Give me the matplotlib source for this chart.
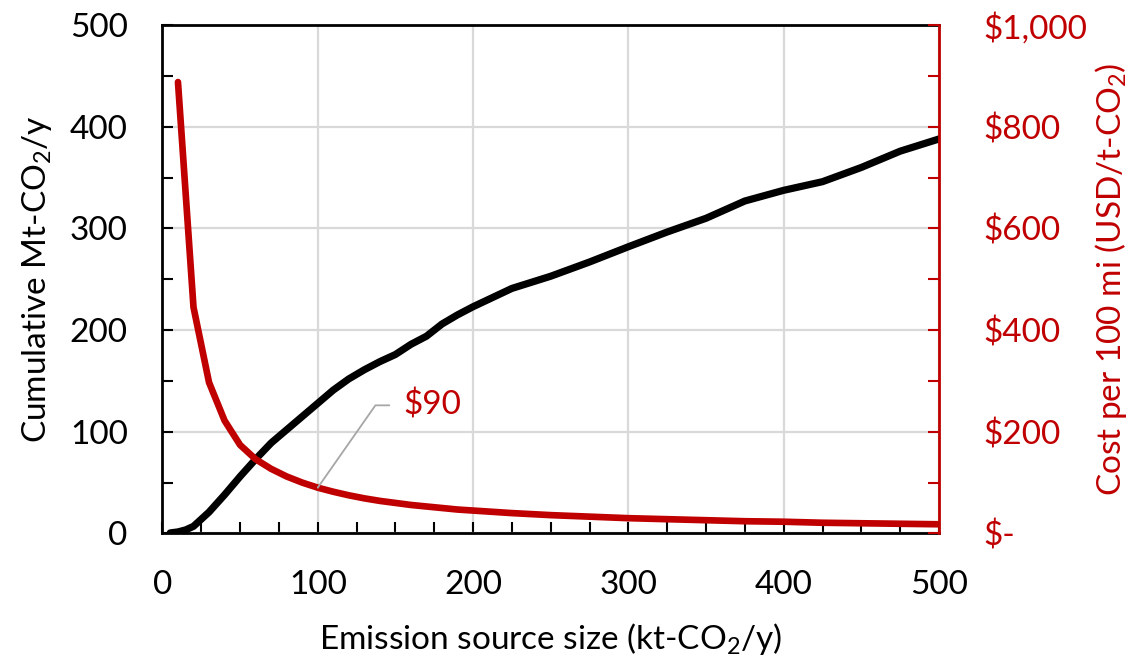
import numpy as np
import matplotlib
matplotlib.use('Agg')
import matplotlib.pyplot as plt
from matplotlib.ticker import MultipleLocator, FuncFormatter

plt.rcParams['font.family'] = ['Lato', 'DejaVu Sans']
plt.rcParams['mathtext.default'] = 'regular'

# cumulative emissions vs source size
size_cum = [5, 10, 15, 20, 30, 40, 50, 60, 70, 80, 90, 100, 110, 120, 130, 140, 150,
            160, 170, 180, 190, 200, 225, 250, 275, 300, 325, 350, 375, 400, 425,
            450, 475, 500]
cum_mt = [0.5, 1.5, 3.5, 7, 21, 38, 56, 73, 89, 102, 115, 128, 141, 152, 161, 169, 176,
          186, 194, 206, 215, 223, 241, 253, 267, 282, 296.5, 310, 327, 337.5, 346,
          360, 376, 388]

# pipeline cost per 100 mi vs source size
size_cost = [10, 20, 30, 40, 50, 60, 70, 80, 90, 100, 110, 120, 130, 140, 150, 160,
             170, 180, 190, 200, 225, 250, 275, 300, 325, 350, 375, 400, 425, 450,
             475, 500]
cost_usd = [888, 445, 297, 222, 174, 146, 127, 112, 100, 90, 82, 75, 69, 64, 60, 56,
            53, 50, 47, 45, 40, 36, 33, 30, 28, 26, 24, 23, 21, 20, 19, 18]

red = '#C00000'
fs = 24

fig, ax = plt.subplots(figsize=(11.32, 6.61), dpi=100)
fig.subplots_adjust(left=0.1435, right=0.8295, bottom=0.193, top=0.962)
ax2 = ax.twinx()

ax.plot(size_cum, cum_mt, color='black', lw=5.2, solid_capstyle='round', zorder=3)
ax2.plot(size_cost, cost_usd, color=red, lw=4.8, solid_capstyle='round', zorder=3)

ax.set_xlim(0, 500)
ax.set_ylim(0, 500)
ax2.set_ylim(0, 1000)

ax.xaxis.set_major_locator(MultipleLocator(100))
ax.xaxis.set_minor_locator(MultipleLocator(25))
ax.yaxis.set_major_locator(MultipleLocator(100))
ax.yaxis.set_minor_locator(MultipleLocator(50))
ax2.yaxis.set_major_locator(MultipleLocator(200))
ax2.yaxis.set_minor_locator(MultipleLocator(100))

ax.grid(True, which='major', color='#d9d9d9', lw=1.6, zorder=0)
ax.set_axisbelow(True)

# ticks point inward, like the spreadsheet original
ax.tick_params(axis='x', which='both', direction='in', length=8, width=1.5,
               labelsize=fs, pad=26)
ax.tick_params(axis='y', which='both', direction='in', length=8, width=1.5,
               labelsize=fs, pad=25)
ax.tick_params(axis='x', which='minor', labelbottom=False)
ax2.tick_params(axis='y', which='both', direction='in', length=8, width=1.5,
                color=red, labelcolor=red, labelsize=fs, pad=32)

def dollars(v, pos):
    if v == 0:
        return '$-'
    return '${:,.0f}'.format(v)

ax2.yaxis.set_major_formatter(FuncFormatter(dollars))

for s in ['left', 'bottom', 'top']:
    ax.spines[s].set_linewidth(2)
ax2.spines['right'].set_color(red)
ax2.spines['right'].set_linewidth(2)
for s in ['left', 'bottom', 'top']:
    ax2.spines[s].set_visible(False)

ax.set_xlabel('Emission source size (kt-CO$_2$/y)', fontsize=fs)
ax.xaxis.set_label_coords(0.5, -0.207)
ax.xaxis.label.set_va('center')
ax.set_ylabel('Cumulative Mt-CO$_2$/y', fontsize=fs)
ax.yaxis.set_label_coords(-0.1615, 0.5)
ax.yaxis.label.set_va('center')
ax2.set_ylabel('Cost per 100 mi (USD/t-CO$_2$)', fontsize=fs, color=red)
ax2.yaxis.set_label_coords(1.222, 0.5)
ax2.yaxis.label.set_va('center')

# callout for the $90 point at 100 kt
ax2.annotate('$90', xy=(100, 90), xytext=(155, 252), fontsize=fs, color=red,
             va='center', ha='left',
             arrowprops=dict(arrowstyle='-', color='#a6a6a6', lw=1.3,
                             shrinkA=8, shrinkB=0,
                             connectionstyle='angle,angleA=0,angleB=55,rad=0'))

plt.savefig('out.png', dpi=100)
